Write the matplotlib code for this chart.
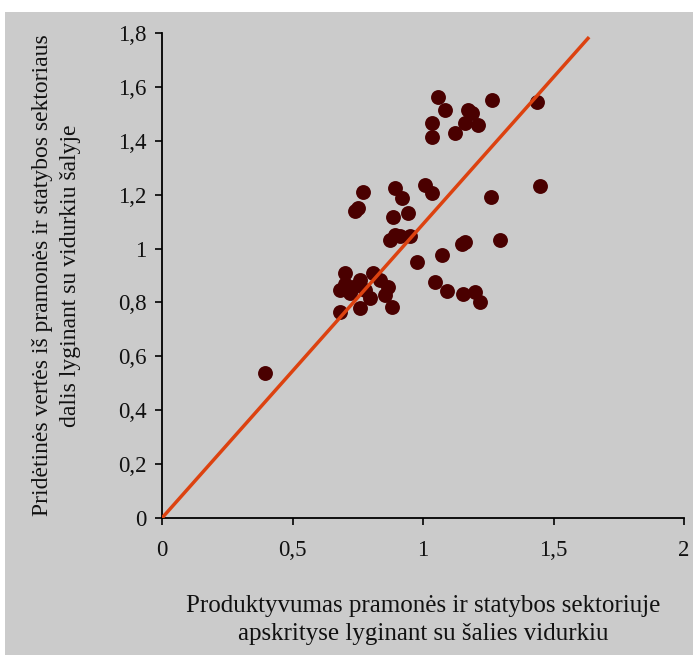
import matplotlib.pyplot as plt
from matplotlib.patches import Rectangle
from matplotlib.ticker import FixedLocator, FixedFormatter

# Productivity (x) vs value-added share (y), relative to country average
prod = [1.057, 1.084, 1.034, 1.034, 1.123, 1.172, 1.188, 1.161, 1.211, 1.264,
        1.437, 1.448, 1.261,
        0.770, 0.740, 0.752, 0.893, 0.920, 1.008, 1.034, 0.885, 0.943,
        0.874, 0.893, 0.912, 0.950, 1.161, 1.150, 1.295,
        0.977, 1.073, 1.046, 1.092, 1.153, 1.199, 1.218,
        0.701, 0.808, 0.682, 0.732, 0.759, 0.797, 0.866, 0.881, 0.759, 0.682,
        0.778, 0.854, 0.835, 0.700, 0.720,
        0.395]
share = [1.563, 1.515, 1.466, 1.414, 1.429, 1.515, 1.503, 1.466, 1.459, 1.552,
         1.544, 1.232, 1.192,
         1.210, 1.140, 1.152, 1.225, 1.188, 1.236, 1.206, 1.117, 1.132,
         1.032, 1.050, 1.047, 1.047, 1.025, 1.018, 1.032,
         0.950, 0.976, 0.876, 0.843, 0.831, 0.839, 0.802,
         0.909, 0.909, 0.846, 0.857, 0.883, 0.817, 0.857, 0.783, 0.780, 0.765,
         0.846, 0.828, 0.883, 0.870, 0.835,
         0.538]

trend_x = [0, 1.632]
trend_y = [0, 1.78]

x_ticks = [0, 0.5, 1, 1.5, 2]
x_labels = ["0", "0,5", "1", "1,5", "2"]
y_ticks = [0, 0.2, 0.4, 0.6, 0.8, 1.0, 1.2, 1.4, 1.6, 1.8]
y_labels = ["0", "0,2", "0,4", "0,6", "0,8", "1", "1,2", "1,4", "1,6", "1,8"]

plt.rcParams['font.family'] = ['Liberation Serif', 'DejaVu Serif']

bg = '#cbcbcb'
fig = plt.figure(figsize=(6.93, 6.55), dpi=100)
fig.patch.set_facecolor('white')
fig.patches.append(Rectangle((5 / 693, 0), 1, 643 / 655, transform=fig.transFigure,
                             facecolor=bg, edgecolor='none', zorder=-10))

ax = fig.add_axes([162 / 693, 137 / 655, 522 / 693, 485 / 655])
ax.set_facecolor(bg)

ax.scatter(prod, share, s=115, color='#4a0000', marker='o', zorder=3, linewidths=0)
ax.plot(trend_x, trend_y, color='#dc4210', lw=2.5, zorder=4)

ax.set_xlim(0, 2)
ax.set_ylim(0, 1.8)
ax.xaxis.set_major_locator(FixedLocator(x_ticks))
ax.xaxis.set_major_formatter(FixedFormatter(x_labels))
ax.yaxis.set_major_locator(FixedLocator(y_ticks))
ax.yaxis.set_major_formatter(FixedFormatter(y_labels))

for side in ['top', 'right']:
    ax.spines[side].set_visible(False)
for side in ['left', 'bottom']:
    ax.spines[side].set_linewidth(1.3)
    ax.spines[side].set_color('black')

ax.tick_params(direction='out', length=5, width=1.3, labelsize=16.5, colors='#111111')
ax.tick_params(axis='x', pad=11)
ax.tick_params(axis='y', pad=6)

ax.set_xlabel("Produktyvumas pramonės ir statybos sektoriuje\napskrityse lyginant su šalies vidurkiu",
              fontsize=18, labelpad=24, linespacing=1.4, color='#111111')
ax.set_ylabel("Pridėtinės vertės iš pramonės ir statybos sektoriaus\ndalis lyginant su vidurkiu šalyje",
              fontsize=17, labelpad=27, linespacing=1.4, color='#111111')

fig.savefig('out.png', dpi=100, facecolor=fig.get_facecolor())
